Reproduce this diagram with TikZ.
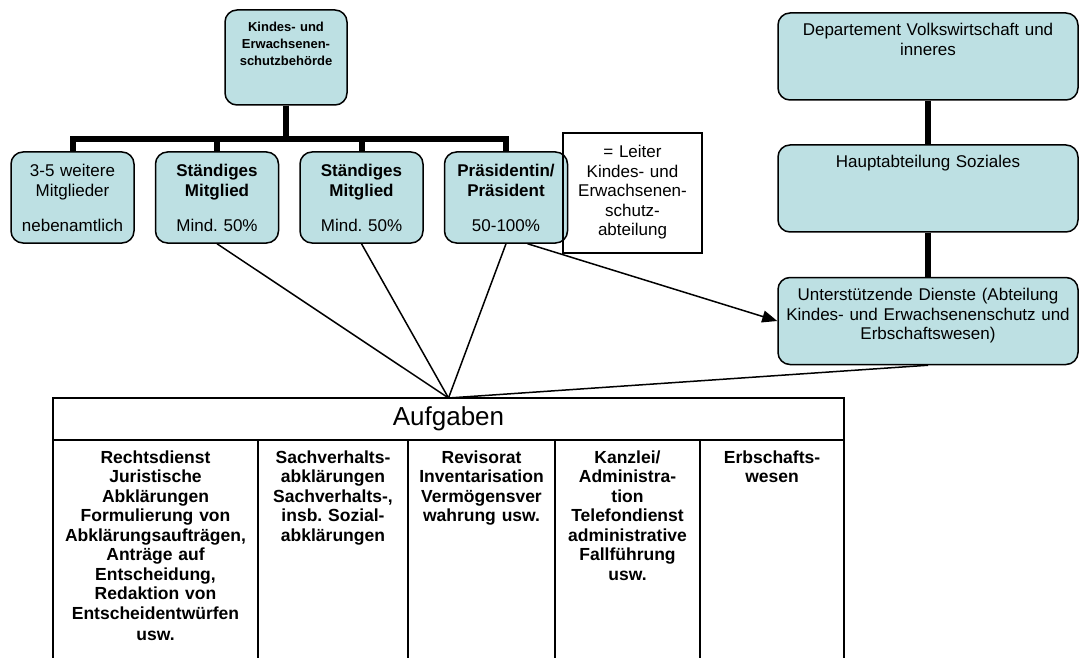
\documentclass[tikz,border=0pt]{standalone}
\usepackage{fontspec}
\setmainfont{Liberation Sans}
\usepackage{xcolor}
\usetikzlibrary{arrows.meta, positioning}
\frenchspacing
\definecolor{boxcyan}{RGB}{189,224,227}
\tikzset{
    orgbox/.style={rectangle, draw, fill=boxcyan, rounded corners=12pt, line width=1.5pt, align=center, inner xsep=4pt, inner ysep=0pt, font=\fontsize{17}{19.5}\selectfont},
    topbox/.style={orgbox, text width=114pt, text height=22pt, text depth=73pt, font=\bfseries\fontsize{13}{17}\selectfont},
    member/.style={orgbox, text width=115pt, text height=25pt, text depth=66pt},
    deptbox/.style={orgbox, text width=292pt, text height=23pt, text depth=64pt},
    notebox/.style={rectangle, draw, line width=1.5pt, align=center, text width=131pt, inner xsep=4pt, inner ysep=0pt, text height=25pt, text depth=95pt, font=\fontsize{17}{19.5}\selectfont},
    tablehead/.style={rectangle, draw, line width=2pt, minimum width=791pt, minimum height=42pt, inner sep=0pt, outer sep=0pt, font=\fontsize{26}{30}\selectfont},
    taskcell/.style={rectangle, draw, line width=2pt, align=center, inner sep=0pt, outer sep=0pt, text height=23pt, text depth=197pt, font=\bfseries\fontsize{17.5}{19.5}\selectfont},
    bus/.style={line width=6pt},
    thinline/.style={line width=1.5pt},
    arrow/.style={-{Triangle[length=15pt, width=12pt]}, line width=1.5pt},
}

\begin{document}
\begin{tikzpicture}[x=1pt, y=-1pt]
    \useasboundingbox (0,0) rectangle (1080,658);

    % Behoerde und Mitglieder
    \node[topbox] (kesb) at (286,57.5) {Kindes- und\\Erwachsenen-\\schutzbehörde};

    \node[member] (weitere) at (72.5,197.5) {3-5 weitere\\Mitglieder\\[16pt]nebenamtlich};
    \node[member, right=20pt of weitere] (staendig1) {\textbf{Ständiges}\\\textbf{Mitglied}\\[16pt]Mind. 50\%};
    \node[member, right=20pt of staendig1] (staendig2) {\textbf{Ständiges}\\\textbf{Mitglied}\\[16pt]Mind. 50\%};
    \node[member, right=20pt of staendig2] (praes) {\textbf{Präsidentin/}\\\textbf{Präsident}\\[16pt]50-100\%};

    \node[notebox] (leiter) at (632.5,193) {= Leiter\\Kindes- und\\Erwachsenen-\\schutz-\\abteilung};

    % Departement
    \node[deptbox] (dept) at (928,56.5) {Departement Volkswirtschaft und\\inneres};
    \node[deptbox] (haupt) at (928,188.5) {Hauptabteilung Soziales};
    \node[deptbox] (unter) at (928,321) {Unterstützende Dienste (Abteilung\\Kindes- und Erwachsenenschutz und\\Erbschaftswesen)};

    % Aufgaben
    \node[tablehead] (aufgaben) at (448.5,419) {Aufgaben};
    \node[taskcell, text width=205pt, anchor=north west] (rechtsdienst) at (53,440) {Rechtsdienst\\Juristische\\Abklärungen\\Formulierung von\\Abklärungsaufträgen,\\Anträge auf\\Entscheidung,\\Redaktion von\\Entscheidentwürfen\\[2pt]usw.};
    \node[taskcell, text width=150pt, right=0pt of rechtsdienst] (sachverhalt) {Sachverhalts-\\abklärungen\\Sachverhalts-,\\insb. Sozial-\\abklärungen};
    \node[taskcell, text width=147pt, right=0pt of sachverhalt] (revisorat) {Revisorat\\Inventarisation\\Vermögensver\\wahrung usw.};
    \node[taskcell, text width=145pt, right=0pt of revisorat] (kanzlei) {Kanzlei/\\Administra-\\tion\\Telefondienst\\administrative\\Fallführung\\usw.};
    \node[taskcell, text width=144pt, right=0pt of kanzlei] (erbschaft) {Erbschafts-\\wesen};

    \draw[bus] (kesb.south) -- ++(0,33) -| (weitere.north);
    \draw[bus] (kesb.south) -- ++(0,33) -| (staendig1.north);
    \draw[bus] (kesb.south) -- ++(0,33) -| (staendig2.north);
    \draw[bus] (kesb.south) -- ++(0,33) -| (praes.north);
    \draw[bus] (dept) -- (haupt);
    \draw[bus] (haupt) -- (unter);

    \draw[thinline] (staendig1.south) -- (aufgaben.north);
    \draw[thinline] (staendig2.south) -- (aufgaben.north);
    \draw[thinline] (praes.south) -- (aufgaben.north);
    \draw[thinline] (unter.south) -- (aufgaben.north);
    \draw[arrow] (praes.-65) -- (unter.west);
\end{tikzpicture}
\end{document}
